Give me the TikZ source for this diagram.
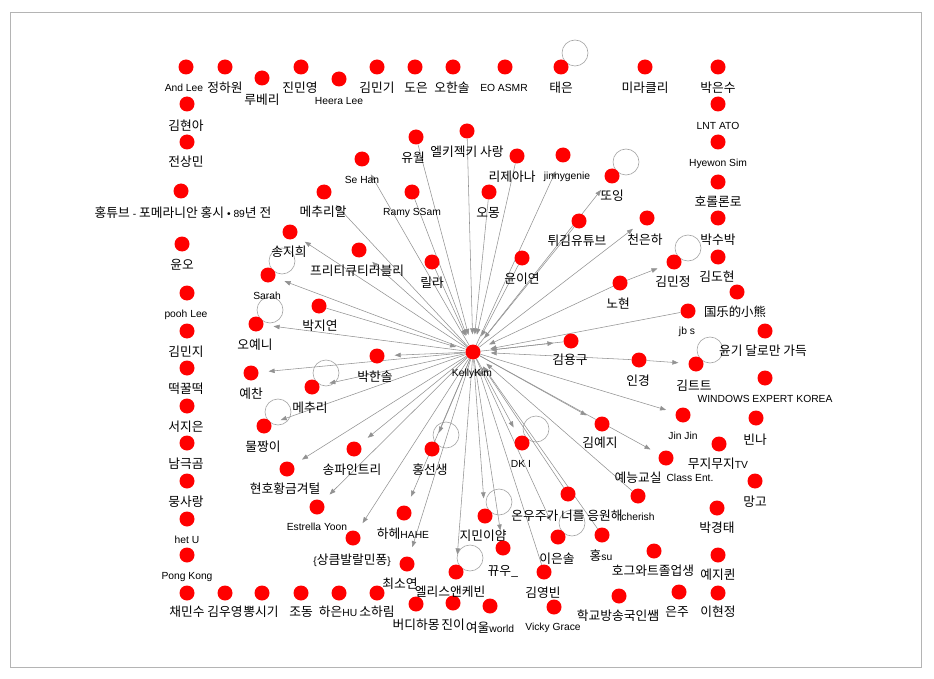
\documentclass[tikz,border=0pt]{standalone}
\usepackage{fontspec}
\setmainfont{Liberation Sans}
\newfontfamily\krf{Noto Sans CJK KR}[Scale=1.24]
\newfontfamily\zhf{Noto Sans CJK SC}[Scale=1.2]
\newcommand\K[1]{{\krf #1}}
\usetikzlibrary{arrows.meta,backgrounds}
\definecolor{edgegray}{HTML}{929292}
\definecolor{loopgray}{HTML}{A4A4A4}
\definecolor{framegray}{HTML}{B4B4B4}
\definecolor{dotred}{HTML}{FF0000}
\newcommand\N[7]{\node[dot] (#1) at (#2,#3) {}; \node[#7] (#1-t) at (#5,#6) {#4};}
\tikzset{
  dot/.style={circle, fill=dotred, minimum size=15pt, inner sep=0pt},
  lbl/.style={inner sep=0pt, anchor=center, font=\fontsize{10.3}{12}\selectfont},
  kl/.style={lbl, font=\fontsize{10.3}{12}\selectfont\krf},
  zl/.style={lbl, font=\fontsize{10.3}{12}\selectfont\zhf},
  edge/.style={draw=edgegray, line width=0.55pt, -{Triangle[length=6pt,width=4.5pt]}, shorten >=10pt},
  selfloop/.style={draw=loopgray, line width=0.6pt},
}
\begin{document}
\begin{tikzpicture}[x=1pt, y=-1pt]
\useasboundingbox (0,0) rectangle (934,679);
\draw[framegray, line width=0.8pt] (10,12) rectangle (921,667);
% top row
\N{al}{186}{67}{And Lee}{184}{88}{lbl}
\N{jhw}{225}{67}{정하원}{225}{88}{kl}
\N{rb}{262}{78}{루베리}{262}{100}{kl}
\N{jmy}{301}{67}{진민영}{300}{88}{kl}
\N{hl}{339}{79}{Heera Lee}{339}{101}{lbl}
\N{kmg}{377}{67}{김민기}{377}{88}{kl}
\N{de}{415}{67}{도은}{416}{88}{kl}
\N{ohs}{453}{67}{오한솔}{452}{88}{kl}
\N{eo}{505}{67}{EO ASMR}{504}{88}{lbl}
\N{te}{561}{67}{태은}{561}{88}{kl}
\N{mrk}{645}{67}{미라클리}{645}{88}{kl}
\N{pes}{718}{67}{박은수}{718}{88}{kl}
% right column
\N{lnt}{718}{104}{LNT ATO}{718}{126}{lbl}
\N{hs}{718}{142}{Hyewon Sim}{718}{164}{lbl}
\N{hrr}{718}{182}{호롤론로}{718}{202}{kl}
\N{psp}{718}{218}{박수박}{718}{240}{kl}
\N{kdh}{718}{257}{김도현}{717}{277}{kl}
\N{gl}{737}{292}{国乐的小熊}{735}{312}{zl}
\N{jbs}{688}{311}{jb s}{687}{332}{lbl}
\N{yg}{765}{331}{윤기 달로만 가득}{763}{351}{kl}
\N{ktt}{696}{364}{김트트}{694}{386}{kl}
\N{win}{765}{378}{WINDOWS EXPERT KOREA}{765}{399}{lbl}
\N{jj}{683}{415}{Jin Jin}{683}{436}{lbl}
\N{bn}{756}{418}{빈나}{755}{440}{kl}
\N{mj}{719}{444}{\K{무지무지}TV}{718}{464}{lbl}
\N{ce}{666}{458}{Class Ent.}{690}{478}{lbl}
\node[kl] (yn-t) at (638,478) {예능교실};
\N{mg}{755}{481}{망고}{755}{502}{kl}
\N{pkt}{717}{508}{박경태}{717}{528}{kl}
\N{yjq}{718}{555}{예지퀸}{718}{575}{kl}
\N{hg}{654}{551}{호그와트졸업생}{653}{571}{kl}
\N{ej}{679}{592}{은주}{677}{612}{kl}
\N{ihj}{718}{593}{이현정}{718}{612}{kl}
% bottom row
\N{hgb}{619}{596}{학교방송국인쌤}{618}{616}{kl}
\N{vg}{554}{607}{Vicky Grace}{553}{628}{lbl}
\N{yw}{490}{606}{\K{여울}world}{490}{628}{lbl}
\N{jni}{453}{603}{진이}{453}{625}{kl}
\N{bdh}{416}{604}{버디하몽}{416}{625}{kl}
\N{shr}{377}{593}{소하림}{377}{612}{kl}
\N{heu}{339}{593}{\K{하은}HU}{338}{612}{lbl}
\N{jd}{301}{593}{조동}{301}{612}{kl}
\N{psg}{262}{593}{뽕시기}{261}{612}{kl}
\N{kwy}{225}{593}{김우영}{225}{612}{kl}
\N{cms}{187}{593}{채민수}{187}{612}{kl}
% left column
\N{pk}{187}{555}{Pong Kong}{187}{577}{lbl}
\N{hu}{187}{519}{het U}{187}{540}{lbl}
\N{ms}{187}{481}{뭉사랑}{186}{502}{kl}
\N{ngg}{187}{443}{남극곰}{186}{464}{kl}
\N{sje}{187}{406}{서지은}{186}{427}{kl}
\N{dgd}{187}{368}{떡꿀떡}{186}{389}{kl}
\N{kmj}{187}{331}{김민지}{186}{352}{kl}
\N{pl}{187}{293}{pooh Lee}{186}{315}{lbl}
\N{yo}{182}{244}{윤오}{182}{265}{kl}
\N{ht}{181}{191}{\K{홍튜브} - \K{포메라니안 홍시} • 89\K{년 전}}{183}{213}{lbl}
\N{jsm}{187}{142}{전상민}{186}{162}{kl}
\N{kha}{187}{104}{김현아}{186}{126}{kl}
% inner
\N{K}{473}{352}{KellyKim}{472}{374}{lbl}
\N{sh}{362}{159}{Se Han}{362}{180}{lbl}
\N{yu}{416}{137}{유월}{413}{158}{kl}
\N{ek}{467}{131}{엘키젝키 사랑}{467}{152}{kl}
\N{rj}{517}{156}{리제아나}{512}{177}{kl}
\N{jg}{563}{155}{jinnygenie}{567}{177}{lbl}
\N{mca}{324}{192}{메추리알}{323}{212}{kl}
\N{rs}{412}{192}{Ramy SSam}{412}{213}{lbl}
\N{om}{489}{192}{오몽}{488}{213}{kl}
\N{tt}{612}{176}{또잉}{612}{196}{kl}
\N{tk}{579}{221}{튀김유튜브}{577}{241}{kl}
\N{ceh}{647}{218}{천은하}{645}{240}{kl}
\N{sjh}{290}{232}{송지희}{289}{252}{kl}
\N{ptq}{359}{250}{프리티큐티러블리}{357}{271}{kl}
\N{ll}{432}{262}{릴라}{432}{283}{kl}
\N{yye}{522}{258}{윤이연}{522}{279}{kl}
\N{kmjg}{674}{262}{김민정}{673}{282}{kl}
\N{nh}{620}{283}{노현}{618}{304}{kl}
\N{sr}{268}{275}{Sarah}{267}{296}{lbl}
\N{pjy}{319}{306}{박지연}{320}{326}{kl}
\N{oy}{256}{324}{오예니}{255}{345}{kl}
\N{phs}{377}{356}{박한솔}{375}{377}{kl}
\N{yc}{251}{373}{예찬}{251}{394}{kl}
\N{mc}{312}{387}{메추리}{310}{408}{kl}
\N{kyg}{571}{341}{김용구}{570}{360}{kl}
\N{ik}{639}{360}{인경}{638}{381}{kl}
\N{mjy}{264}{426}{물짱이}{263}{447}{kl}
\N{hhg}{287}{469}{현호황금겨털}{285}{489}{kl}
\N{spt}{354}{449}{송파인트리}{352}{470}{kl}
\N{hss}{432}{449}{홍선생}{430}{470}{kl}
\N{dki}{522}{443}{DK I}{521}{464}{lbl}
\N{kyj}{602}{424}{김예지}{600}{443}{kl}
\N{ey}{317}{507}{Estrella Yoon}{317}{527}{lbl}
\N{hh}{404}{513}{\K{하헤}HAHE}{403}{534}{lbl}
\N{jmi}{485}{516}{지민이얌}{483}{536}{kl}
\N{owj}{568}{494}{온우주가 너를 응원해}{567}{516}{kl}
\N{ch}{638}{496}{cherish}{638}{517}{lbl}
\N{skb}{353}{538}{\{\K{상큼발랄민퐁}\}}{352}{560}{lbl}
\N{ky}{503}{548}{뀨우\_}{503}{571}{kl}
\N{ies}{558}{537}{이은솔}{557}{559}{kl}
\N{hsu}{602}{535}{\K{홍}su}{601}{556}{lbl}
\N{csy}{407}{564}{최소연}{400}{584}{kl}
\N{ak}{456}{572}{엘리스앤케빈}{450}{592}{kl}
\N{kyb}{544}{572}{김영빈}{543}{593}{kl}
\begin{pgfonlayer}{background}
% self loops
\foreach \n in {te,tt,kmjg,ktt,sr,oy,mc,mjy,hss,dki,jmi,ies,ak}
  \draw[selfloop] ([shift={(14,-14)}]\n.center) circle[radius=13];
% outgoing edges
\foreach \t in {sjh,sr,oy,yc,phs,mc,mjy,hhg,spt,ey,skb,hh,hss,csy,ak,jmi,ky,dki,ies,kyj,jj,ce,kyg,ceh,tt,jg,ptq,mca,sh}
  \draw[edge] (K) -- (\t);
% incoming edges
\foreach \s in {pjy,yu,ek,rj,om,rs,ll,yye,tk,nh,jbs,ik,kyg,owj,ch,hsu,kyb}
  \draw[edge] (\s) -- (K);
\draw[edge] (nh) -- (kmjg);
\draw[edge] (ik) -- (ktt);
\end{pgfonlayer}
\end{tikzpicture}
\end{document}
